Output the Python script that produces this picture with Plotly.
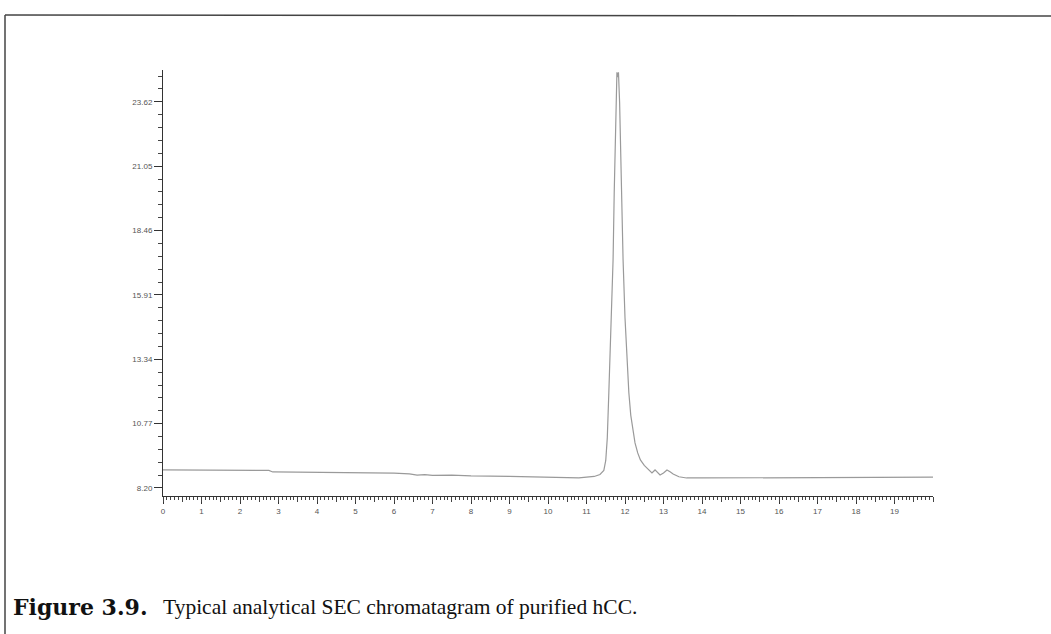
import plotly.graph_objects as go

# Retention time (min) and detector signal
time_min = [0, 1, 2, 2.75, 2.85, 4, 5, 6, 6.4, 6.6, 6.8, 7, 7.5, 8, 9, 10, 10.5, 10.8,
            11.0, 11.2, 11.35, 11.45, 11.5, 11.54, 11.58, 11.62, 11.66, 11.69, 11.72,
            11.74, 11.77, 11.79, 11.81, 11.83, 11.86, 11.89, 11.92, 11.95, 12.0, 12.05,
            12.1, 12.15, 12.2, 12.26, 12.33, 12.4, 12.5, 12.57, 12.65, 12.7, 12.78,
            12.85, 12.91, 13.0, 13.09, 13.17, 13.25, 13.4, 13.6, 14, 15, 16, 17, 18, 19, 20]
signal = [8.92, 8.92, 8.91, 8.90, 8.84, 8.83, 8.81, 8.79, 8.76, 8.71, 8.73, 8.70, 8.71,
          8.68, 8.66, 8.64, 8.62, 8.60, 8.63, 8.66, 8.74, 8.90, 9.30, 10.2, 12.0, 13.8,
          15.8, 17.3, 20.0, 21.6, 23.9, 24.8, 24.6, 24.8, 23.6, 21.5, 19.2, 17.3, 15.0,
          13.3, 12.0, 11.1, 10.5, 10.0, 9.6, 9.32, 9.1, 9.0, 8.85, 8.8, 8.92, 8.8, 8.72,
          8.8, 8.92, 8.85, 8.76, 8.65, 8.60, 8.60, 8.61, 8.61, 8.62, 8.62, 8.63, 8.63]

y_tick_vals = [8.20, 10.77, 13.34, 15.91, 18.48, 21.05, 23.62]
y_tick_text = ["8.20", "10.77", "13.34", "15.91", "18.46", "21.05", "23.62"]
x_tick_vals = list(range(0, 20))
caption_label = "<b>Figure 3.9.</b>"
caption_text = "Typical analytical SEC chromatagram of purified hCC."

W, H = 1051, 634
L, R, T, B = 163, 933, 70, 496

fig = go.Figure()
fig.add_trace(go.Scatter(x=time_min, y=signal, mode="lines",
                         line=dict(color="#9a9a9a", width=1.2), hoverinfo="skip"))
# helper trace for the mid (0.5) x ticks
fig.add_trace(go.Scatter(x=[0], y=[8.2], xaxis="x2", mode="markers",
                         marker=dict(opacity=0), hoverinfo="skip"))

tick_font = dict(family="Liberation Sans, Arial", size=8, color="#555")
fig.update_layout(
    width=W, height=H,
    margin=dict(l=L, r=W - R, t=T, b=H - B),
    paper_bgcolor="white", plot_bgcolor="white",
    showlegend=False,
    xaxis=dict(range=[0, 20], tickvals=x_tick_vals, ticktext=[str(v) for v in x_tick_vals],
               ticks="outside", ticklen=7, tickwidth=1, tickcolor="#333",
               showline=True, linecolor="#333", linewidth=1, showgrid=False, zeroline=False,
               tickfont=tick_font,
               minor=dict(dtick=0.1, tick0=0, ticks="outside", ticklen=3, tickcolor="#444",
                          showgrid=False)),
    xaxis2=dict(range=[0, 20], overlaying="x", side="bottom", anchor="y", dtick=0.5, tick0=0,
                ticks="outside", ticklen=5, tickcolor="#444", showticklabels=False,
                showgrid=False, zeroline=False, showline=False),
    yaxis=dict(range=[7.88, 24.89], tickvals=y_tick_vals, ticktext=y_tick_text,
               ticks="outside", ticklen=8, tickwidth=1, tickcolor="#333",
               showline=True, linecolor="#333", linewidth=1, showgrid=False, zeroline=False,
               tickfont=tick_font,
               minor=dict(tick0=8.20, dtick=0.514, ticks="outside", ticklen=4,
                          tickcolor="#444", showgrid=False)),
)

def px_to_paper_x(px):
    return (px - L) / (R - L)

def py_to_paper_y(py):
    return (B - py) / (B - T)

frame = dict(color="#444", width=1.5)
fig.add_shape(type="line", xref="paper", yref="paper",
              x0=px_to_paper_x(5), x1=px_to_paper_x(1051),
              y0=py_to_paper_y(15), y1=py_to_paper_y(16), line=frame)
fig.add_shape(type="line", xref="paper", yref="paper",
              x0=px_to_paper_x(5), x1=px_to_paper_x(5),
              y0=py_to_paper_y(15), y1=py_to_paper_y(634), line=frame)

fig.add_annotation(text=caption_label, xref="paper", yref="paper",
                   x=px_to_paper_x(11), y=py_to_paper_y(607),
                   xanchor="left", yanchor="middle", showarrow=False,
                   font=dict(family="DejaVu Serif", size=22, color="#111"))
fig.add_annotation(text=caption_text, xref="paper", yref="paper",
                   x=px_to_paper_x(161), y=py_to_paper_y(607),
                   xanchor="left", yanchor="middle", showarrow=False,
                   font=dict(family="Liberation Serif, Times New Roman", size=21.5, color="#111"))

fig.write_html("out.html")
